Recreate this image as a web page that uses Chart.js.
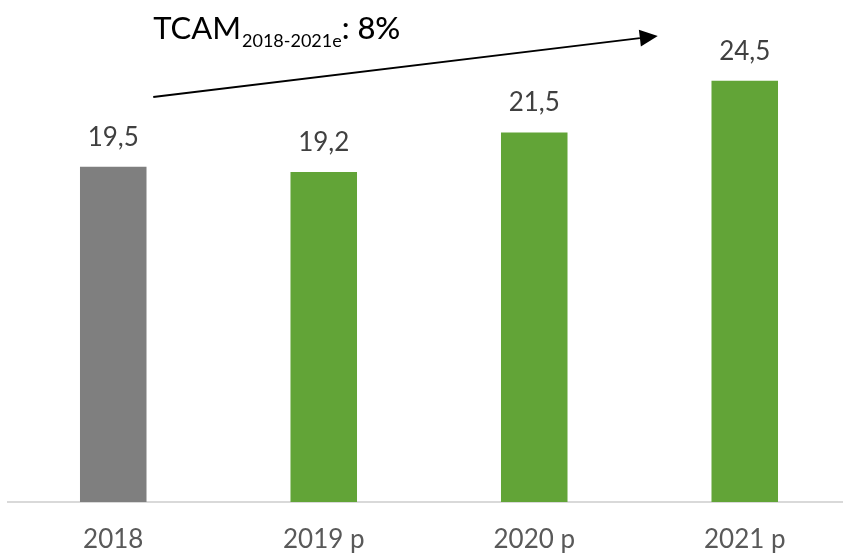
<!DOCTYPE html>
<html>
<head>
<meta charset="utf-8">
<script src="https://cdn.jsdelivr.net/npm/chart.js@4/dist/chart.umd.min.js"></script>
<style>
html,body{margin:0;padding:0;background:#fff;overflow:hidden;width:843px;height:556px;}
#wrap{position:absolute;left:0;top:0;width:852px;height:556px;}
</style>
</head>
<body>
<div id="wrap"><canvas id="c" width="852" height="556"></canvas></div>
<script>
const categories = ["2018", "2019 p", "2020 p", "2021 p"];
const values = [19.5, 19.2, 21.5, 24.5];
const barColors = ["#7f7f7f", "#62a437", "#62a437", "#62a437"];
const cagrLabel = "TCAM";
const cagrSub = "2018-2021e";
const cagrValue = ": 8%";

const FONT = "Lato, 'Open Sans', sans-serif";

const valueLabels = {
  id: 'valueLabels',
  afterDatasetsDraw(chart) {
    const ctx = chart.ctx;
    const meta = chart.getDatasetMeta(0);
    ctx.save();
    ctx.font = "26px " + FONT;
    ctx.fillStyle = "#404040";
    ctx.textAlign = "center";
    ctx.textBaseline = "alphabetic";
    meta.data.forEach((bar, i) => {
      const txt = values[i].toFixed(1).replace('.', ',');
      ctx.fillText(txt, bar.x, bar.y - 21);
    });
    ctx.restore();
  }
};

const cagrArrow = {
  id: 'cagrArrow',
  afterDraw(chart) {
    const ctx = chart.ctx;
    const xs = chart.scales.x;
    const x0 = xs.getPixelForValue(0) + 40;
    const y0 = 97;
    const x1 = xs.getPixelForValue(3) - 87;
    const y1 = 36;
    ctx.save();
    // line
    const ang = Math.atan2(y1 - y0, x1 - x0);
    const headLen = 18, headHalf = 8.5;
    const bx = x1 - headLen * Math.cos(ang);
    const by = y1 - headLen * Math.sin(ang);
    ctx.strokeStyle = "#000";
    ctx.lineWidth = 1.8;
    ctx.beginPath();
    ctx.moveTo(x0, y0);
    ctx.lineTo(bx, by);
    ctx.stroke();
    ctx.fillStyle = "#000";
    ctx.beginPath();
    ctx.moveTo(x1, y1);
    ctx.lineTo(bx - headHalf * Math.sin(ang), by + headHalf * Math.cos(ang));
    ctx.lineTo(bx + headHalf * Math.sin(ang), by - headHalf * Math.cos(ang));
    ctx.closePath();
    ctx.fill();
    // text
    ctx.textAlign = "left";
    ctx.textBaseline = "alphabetic";
    let tx = x0;
    ctx.font = "31px " + FONT;
    ctx.fillText(cagrLabel, tx, 39);
    tx += ctx.measureText(cagrLabel).width + 1;
    ctx.font = "18px " + FONT;
    ctx.fillText(cagrSub, tx, 47);
    tx += ctx.measureText(cagrSub).width;
    ctx.font = "500 31px " + FONT;
    ctx.fillText(cagrValue, tx, 39);
    ctx.restore();
  }
};

new Chart(document.getElementById('c'), {
  type: 'bar',
  data: {
    labels: categories,
    datasets: [{
      data: values,
      backgroundColor: barColors,
      borderWidth: 0,
      barPercentage: 0.316,
      categoryPercentage: 1.0
    }]
  },
  options: {
    responsive: false,
    animation: false,
    devicePixelRatio: 1,
    layout: { padding: { left: 8, right: 2, top: 0, bottom: 0 } },
    plugins: { legend: { display: false }, tooltip: { enabled: false } },
    scales: {
      x: {
        grid: { display: false, drawTicks: false },
        border: { display: true, color: "#d9d9d9", width: 2 },
        ticks: { color: "#595959", font: { family: FONT, size: 26 }, padding: 22 },
        afterFit(scale) { scale.height = 54; }
      },
      y: {
        display: false,
        min: 0,
        max: 29.2
      }
    }
  },
  plugins: [valueLabels, cagrArrow]
});
</script>
</body>
</html>
